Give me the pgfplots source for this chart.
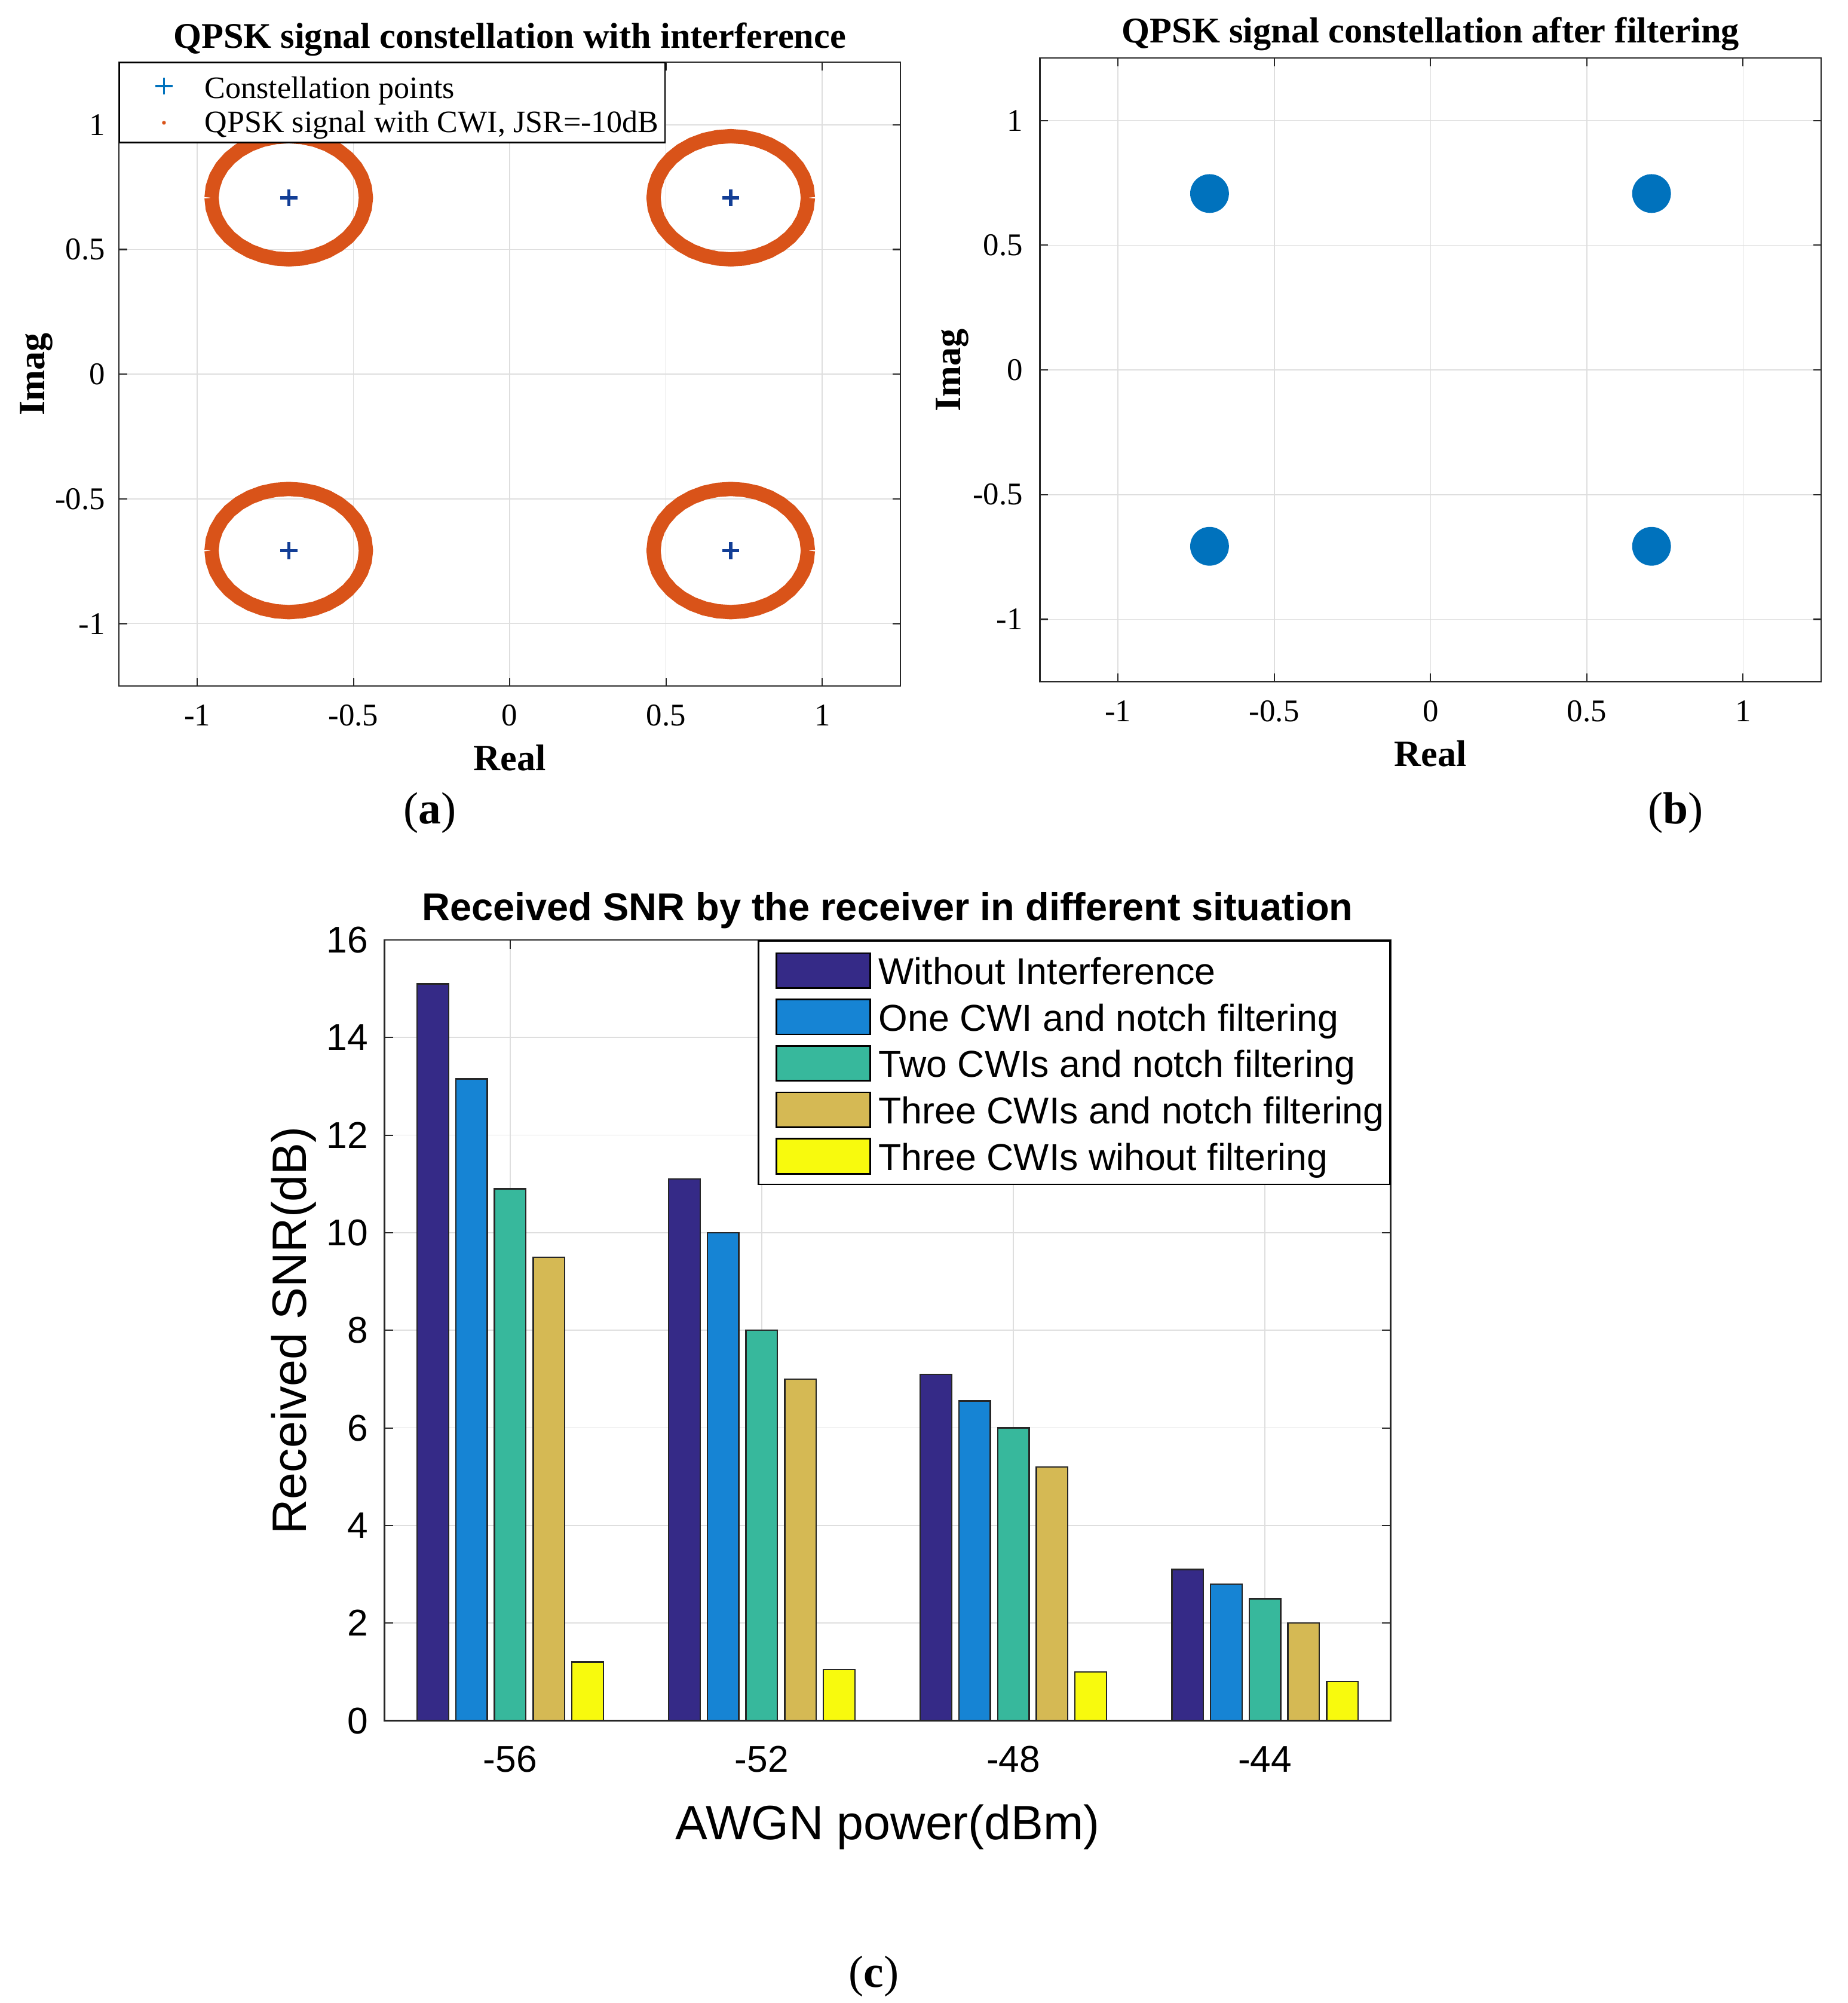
\documentclass[border=0pt]{standalone}
\usepackage{fontspec}
\setmainfont{Liberation Serif}
\newfontfamily\arial{Liberation Sans}
\usepackage{pgfplots}
\pgfplotsset{compat=1.18}

\definecolor{mblue}{RGB}{0,114,189}
\definecolor{mplus}{RGB}{18,62,150}
\definecolor{morange}{RGB}{217,83,25}
\definecolor{gridc}{RGB}{222,222,222}
\definecolor{axc}{RGB}{38,38,38}
\definecolor{c1}{RGB}{53,42,135}
\definecolor{c2}{RGB}{22,132,212}
\definecolor{c3}{RGB}{55,184,156}
\definecolor{c4}{RGB}{213,185,84}
\definecolor{c5}{RGB}{248,250,13}

\pgfplotsset{
  mat/.style={
    scale only axis, anchor=south west,
    grid=major,
    major grid style={draw=gridc, line width=0.15mm},
    tick align=inside, tick pos=both,
    major tick length=1.25mm,
    every tick/.style={draw=axc, line width=0.2mm},
    axis line style={draw=axc, line width=0.2mm},
    every x tick label/.style={anchor=base, inner sep=0pt, text=black},
    every y tick label/.style={anchor=east, inner sep=0pt, text=black},
  },
  con/.style={
    mat,
    width=121.8mm, height=97.2mm,
    xmin=-1.25, xmax=1.25, ymin=-1.25, ymax=1.25,
    xtick={-1,-0.5,0,0.5,1}, ytick={-1,-0.5,0,0.5,1},
    xticklabels={-1,-0.5,0,0.5,1}, yticklabels={-1,-0.5,0,0.5,1},
    tick label style={font=\fontsize{14}{16}\selectfont},
    xticklabel style={yshift=-6.2mm},
    xlabel={Real}, ylabel={Imag},
    every axis x label/.style={at={(axis description cs:0.5,0)}, anchor=base, yshift=-13.2mm, inner sep=0pt, font=\bfseries\fontsize{16.5}{19}\selectfont},
    every axis title/.style={at={(axis description cs:0.5,1)}, anchor=base, inner sep=0pt, font=\bfseries\fontsize{16}{19}\selectfont},
  },
  swatch/.style={legend image code/.code={\path[draw=none,fill=none] (-1.92mm,0) -- (15.94mm,0); \draw[fill=#1, draw=black, line width=0.25mm] (0,-0.54mm) rectangle (14.6mm,4.9mm);}},
}

\begin{document}
\begin{tikzpicture}
\useasboundingbox (0,0) rectangle (288mm,312.2mm);

% ---------------- (a) ----------------
\begin{axis}[con, at={(18.56mm,205.28mm)},
  title={QPSK signal constellation with interference},
  title style={yshift=2.24mm},
  yticklabel style={xshift=-2.1mm},
  every axis y label/.style={at={(axis description cs:-0.0957,0.5)}, rotate=90, anchor=base, inner sep=0pt, font=\bfseries\fontsize{16.5}{19}\selectfont},
  legend style={at={(0,1)}, anchor=north west, draw=black, line width=0.2mm, fill=white,
     inner xsep=1mm, inner ysep=0.88mm, row sep=0pt, column sep=0pt,
     cells={anchor=base west},
     nodes={inner sep=0pt, text height=4.62mm, text depth=0.7mm},
     font=\fontsize{13.8}{16}\selectfont},
]
\addplot[only marks, mark=+, mark size=1.33mm, color=mplus, line width=0.5mm,
  legend image code/.code={\path[draw=none,fill=none] (-5.9mm,0) -- (6.36mm,0); \draw[mblue, line width=0.3mm] (-1.33mm,1.9mm) -- (1.33mm,1.9mm) (0,0.57mm) -- (0,3.23mm);}]
  coordinates {(0.7071,0.7071) (-0.7071,0.7071) (-0.7071,-0.7071) (0.7071,-0.7071)};
\addlegendentry{Constellation points}
\addplot[morange, line width=2.23mm, line join=round, no marks,
  legend image code/.code={\path[draw=none,fill=none] (-5.9mm,0) -- (6.36mm,0); \fill[morange, draw=none] (0,1.5mm) circle (0.3mm);}]
  coordinates {(0.9541,0.7071) (0.9503,0.7500) (0.9392,0.7916) (0.9210,0.8306) (0.8963,0.8659) (0.8659,0.8963) (0.8306,0.9210) (0.7916,0.9392) (0.7500,0.9503) (0.7071,0.9541) (0.6642,0.9503) (0.6226,0.9392) (0.5836,0.9210) (0.5483,0.8963) (0.5179,0.8659) (0.4932,0.8306) (0.4750,0.7916) (0.4639,0.7500) (0.4601,0.7071) (0.4639,0.6642) (0.4750,0.6226) (0.4932,0.5836) (0.5179,0.5483) (0.5483,0.5179) (0.5836,0.4932) (0.6226,0.4750) (0.6642,0.4639) (0.7071,0.4601) (0.7500,0.4639) (0.7916,0.4750) (0.8306,0.4932) (0.8659,0.5179) (0.8963,0.5483) (0.9210,0.5836) (0.9392,0.6226) (0.9503,0.6642) (0.9541,0.7071)};
\addlegendentry{QPSK signal with CWI, JSR=-10dB}
\addplot[morange, line width=2.23mm, line join=round, no marks, forget plot]
  coordinates {(-0.9541,0.7071) (-0.9503,0.7500) (-0.9392,0.7916) (-0.9210,0.8306) (-0.8963,0.8659) (-0.8659,0.8963) (-0.8306,0.9210) (-0.7916,0.9392) (-0.7500,0.9503) (-0.7071,0.9541) (-0.6642,0.9503) (-0.6226,0.9392) (-0.5836,0.9210) (-0.5483,0.8963) (-0.5179,0.8659) (-0.4932,0.8306) (-0.4750,0.7916) (-0.4639,0.7500) (-0.4601,0.7071) (-0.4639,0.6642) (-0.4750,0.6226) (-0.4932,0.5836) (-0.5179,0.5483) (-0.5483,0.5179) (-0.5836,0.4932) (-0.6226,0.4750) (-0.6642,0.4639) (-0.7071,0.4601) (-0.7500,0.4639) (-0.7916,0.4750) (-0.8306,0.4932) (-0.8659,0.5179) (-0.8963,0.5483) (-0.9210,0.5836) (-0.9392,0.6226) (-0.9503,0.6642) (-0.9541,0.7071)};
\addplot[morange, line width=2.23mm, line join=round, no marks, forget plot]
  coordinates {(-0.9541,-0.7071) (-0.9503,-0.7500) (-0.9392,-0.7916) (-0.9210,-0.8306) (-0.8963,-0.8659) (-0.8659,-0.8963) (-0.8306,-0.9210) (-0.7916,-0.9392) (-0.7500,-0.9503) (-0.7071,-0.9541) (-0.6642,-0.9503) (-0.6226,-0.9392) (-0.5836,-0.9210) (-0.5483,-0.8963) (-0.5179,-0.8659) (-0.4932,-0.8306) (-0.4750,-0.7916) (-0.4639,-0.7500) (-0.4601,-0.7071) (-0.4639,-0.6642) (-0.4750,-0.6226) (-0.4932,-0.5836) (-0.5179,-0.5483) (-0.5483,-0.5179) (-0.5836,-0.4932) (-0.6226,-0.4750) (-0.6642,-0.4639) (-0.7071,-0.4601) (-0.7500,-0.4639) (-0.7916,-0.4750) (-0.8306,-0.4932) (-0.8659,-0.5179) (-0.8963,-0.5483) (-0.9210,-0.5836) (-0.9392,-0.6226) (-0.9503,-0.6642) (-0.9541,-0.7071)};
\addplot[morange, line width=2.23mm, line join=round, no marks, forget plot]
  coordinates {(0.9541,-0.7071) (0.9503,-0.7500) (0.9392,-0.7916) (0.9210,-0.8306) (0.8963,-0.8659) (0.8659,-0.8963) (0.8306,-0.9210) (0.7916,-0.9392) (0.7500,-0.9503) (0.7071,-0.9541) (0.6642,-0.9503) (0.6226,-0.9392) (0.5836,-0.9210) (0.5483,-0.8963) (0.5179,-0.8659) (0.4932,-0.8306) (0.4750,-0.7916) (0.4639,-0.7500) (0.4601,-0.7071) (0.4639,-0.6642) (0.4750,-0.6226) (0.4932,-0.5836) (0.5179,-0.5483) (0.5483,-0.5179) (0.5836,-0.4932) (0.6226,-0.4750) (0.6642,-0.4639) (0.7071,-0.4601) (0.7500,-0.4639) (0.7916,-0.4750) (0.8306,-0.4932) (0.8659,-0.5179) (0.8963,-0.5483) (0.9210,-0.5836) (0.9392,-0.6226) (0.9503,-0.6642) (0.9541,-0.7071)};
\end{axis}

% ---------------- (b) ----------------
\begin{axis}[con, at={(162.1mm,205.94mm)},
  title={QPSK signal constellation after filtering},
  title style={yshift=2.4mm},
  yticklabel style={xshift=-2.6mm},
  every axis y label/.style={at={(axis description cs:-0.1015,0.5)}, rotate=90, anchor=base, inner sep=0pt, font=\bfseries\fontsize{16.5}{19}\selectfont},
]
\addplot[only marks, mark=*, mark size=2.95mm, color=mblue]
  coordinates {(-0.7071,0.7071) (0.7071,0.7071) (-0.7071,-0.7071) (0.7071,-0.7071)};
\end{axis}

% ---------------- (c) ----------------
\begin{axis}[mat, at={(59.92mm,44.0mm)}, width=156.88mm, height=121.7mm,
  xmin=-58, xmax=-42, ymin=0, ymax=16,
  xtick={-56,-52,-48,-44}, xticklabels={-56,-52,-48,-44},
  ytick={0,2,4,6,8,10,12,14,16}, yticklabels={0,2,4,6,8,10,12,14,16},
  major tick length=1.4mm,
  axis line style={line width=0.25mm},
  tick label style={font=\arial\fontsize{16.5}{19}\selectfont},
  xticklabel style={yshift=-8.04mm},
  yticklabel style={xshift=-2.5mm},
  title={Received SNR by the receiver in different situation},
  every axis title/.style={at={(axis description cs:0.5,1)}, anchor=base, yshift=3.0mm, inner sep=0pt, font=\arial\bfseries\fontsize{17.2}{19}\selectfont},
  xlabel={AWGN power(dBm)}, ylabel={Received SNR(dB)},
  every axis x label/.style={at={(axis description cs:0.5,0)}, anchor=base, yshift=-18.5mm, inner sep=0pt, font=\arial\fontsize{21.4}{25}\selectfont},
  every axis y label/.style={at={(axis description cs:-0.0776,0.5)}, rotate=90, anchor=base, inner sep=0pt, font=\arial\fontsize{21.4}{25}\selectfont},
  legend style={at={(1,1)}, anchor=north east, draw=black, line width=0.25mm, fill=white,
     inner xsep=0.9mm, inner ysep=0.89mm, row sep=0pt, column sep=0pt,
     cells={anchor=base west},
     nodes={inner sep=0pt, text height=5.93mm, text depth=1.31mm},
     font=\arial\fontsize{16.6}{19}\selectfont},
]
\addplot[ybar, bar width=0.5, bar shift=-1.23, fill=c1, draw=black!85, line width=0.22mm, swatch=c1]
  coordinates {(-56,15.1) (-52,11.1) (-48,7.1) (-44,3.1)};
\addlegendentry{Without Interference}
\addplot[ybar, bar width=0.5, bar shift=-0.615, fill=c2, draw=black!85, line width=0.22mm, swatch=c2]
  coordinates {(-56,13.15) (-52,10.0) (-48,6.55) (-44,2.8)};
\addlegendentry{One CWI and notch filtering}
\addplot[ybar, bar width=0.5, bar shift=0, fill=c3, draw=black!85, line width=0.22mm, swatch=c3]
  coordinates {(-56,10.9) (-52,8.0) (-48,6.0) (-44,2.5)};
\addlegendentry{Two CWIs and notch filtering}
\addplot[ybar, bar width=0.5, bar shift=0.615, fill=c4, draw=black!85, line width=0.22mm, swatch=c4]
  coordinates {(-56,9.5) (-52,7.0) (-48,5.2) (-44,2.0)};
\addlegendentry{Three CWIs and notch filtering}
\addplot[ybar, bar width=0.5, bar shift=1.23, fill=c5, draw=black!85, line width=0.22mm, swatch=c5]
  coordinates {(-56,1.2) (-52,1.05) (-48,1.0) (-44,0.8)};
\addlegendentry{Three CWIs wihout filtering}
\end{axis}

\node[anchor=base, font=\fontsize{20}{24}\selectfont] at (67mm,183.8mm) {(\textbf{a})};
\node[anchor=base, font=\fontsize{20}{24}\selectfont] at (261.2mm,183.8mm) {(\textbf{b})};
\node[anchor=base, font=\fontsize{20}{24}\selectfont] at (136.2mm,2.5mm) {(\textbf{c})};
\end{tikzpicture}
\end{document}
